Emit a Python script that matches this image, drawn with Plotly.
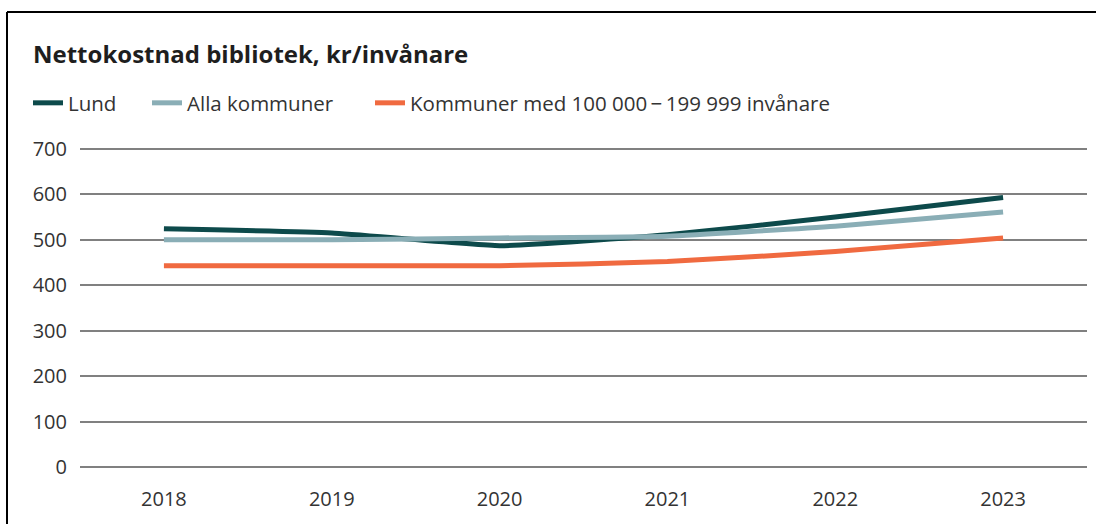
import plotly.graph_objects as go

years = ["2018", "2019", "2020", "2021", "2022", "2023"]
lund = [524, 515, 487, 511, 550, 593]
alla = [500, 500, 504, 508, 530, 561]
kommuner = [443, 443, 443, 452, 474, 504]

series = [
    ("Lund", lund, "#0d4a4b"),
    ("Alla kommuner", alla, "#8aaeb6"),
    ("Kommuner med 100 000\u2009\u2212\u2009199 999 invånare", kommuner, "#f06a40"),
]

# body margin is removed by post_script, so figure pixels == page pixels
W, H = 1096, 524
PL, PR, PT, PB = 80, 1087, 147, 469   # plot area in page pixels
L, R, T, B = PL, W - PR, PT, H - PB
pw, ph = W - L - R, H - T - B
YMIN, YMAX = -4, 704

def px(x):
    return (x - L) / pw

def py(y):
    return (H - B - y) / ph

fig = go.Figure()
legend_names = ["legend", "legend2", "legend3"]
legend_x = [28, 147, 370]
for (name, vals, col), lg in zip(series, legend_names):
    fig.add_trace(go.Scatter(
        x=years, y=vals, name=name, mode="lines", legend=lg,
        line=dict(color=col, width=5, shape="spline", smoothing=0.4),
    ))

font = "Open Sans"
leg_common = dict(orientation="h", xanchor="left", yanchor="middle",
                  font=dict(family=font, size=20.5, color="#333333"),
                  itemwidth=30, bgcolor="rgba(0,0,0,0)")
legends = {}
for lg, lx in zip(legend_names, legend_x):
    legends[lg] = dict(leg_common, x=px(lx), y=py(103), xref="paper", yref="paper")

fig.update_layout(
    width=W, height=H,
    margin=dict(l=L, r=R, t=T, b=B),
    paper_bgcolor="white", plot_bgcolor="white",
    font=dict(family=font, size=20, color="#333333"),
    title=dict(text="<b>Nettokostnad bibliotek, kr/invånare</b>",
               x=33 / W, xref="container", xanchor="left",
               y=1 - 55 / H, yref="container", yanchor="middle",
               font=dict(family=font, size=24, color="#1e1e1e")),
    showlegend=True,
    **legends,
    xaxis=dict(type="category", range=[-0.5, 5.5], showgrid=False,
               showline=False, zeroline=False, ticks="", ticklen=0,
               ticklabelstandoff=16,
               tickfont=dict(family=font, size=20, color="#333333")),
    yaxis=dict(range=[YMIN, YMAX], tickvals=[0, 100, 200, 300, 400, 500, 600, 700],
               showgrid=True, gridcolor="#808080",
               gridwidth=1.5, zeroline=False, showline=False, ticks="",
               ticklabelstandoff=12,
               tickfont=dict(family=font, size=20, color="#333333")),
    shapes=[
        dict(type="line", xref="paper", yref="paper", x0=px(7), x1=px(1110),
             y0=py(12), y1=py(12), line=dict(color="black", width=2)),
        dict(type="line", xref="paper", yref="paper", x0=px(7), x1=px(7),
             y0=py(12), y1=py(540), line=dict(color="black", width=2)),
    ],
)

fig.write_html("out.html",
               config={"displayModeBar": False},
               post_script="document.body.style.margin='0';document.body.style.overflow='hidden';")
